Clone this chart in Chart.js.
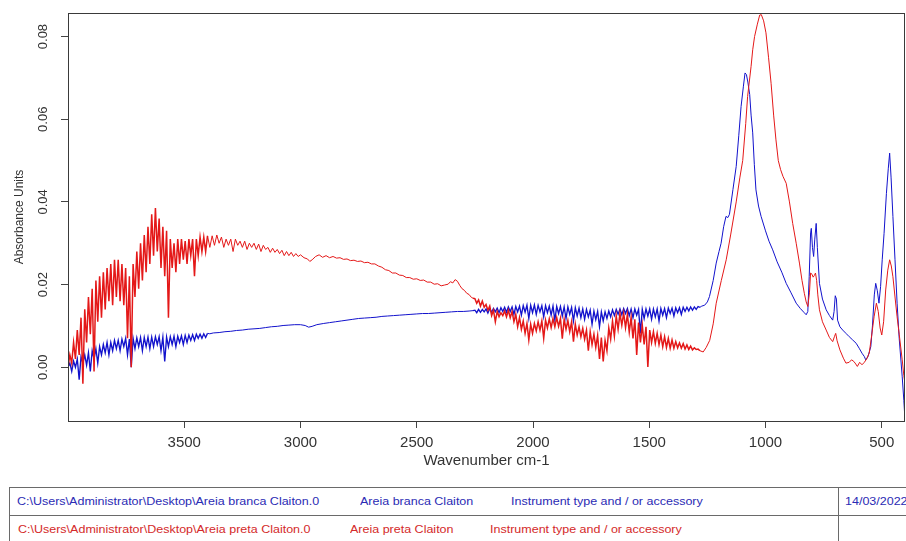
<!DOCTYPE html>
<html><head><meta charset="utf-8">
<script src="https://cdn.jsdelivr.net/npm/chart.js@4.4.1/dist/chart.umd.min.js"></script>
<style>
html,body{margin:0;padding:0;background:#fff;width:906px;height:541px;overflow:hidden;}
#wrap{position:absolute;left:0;top:0;width:906px;height:480px;}
.hl{position:absolute;left:9px;width:905px;height:0;border-top:1px solid #6a6a6a;}
.vl{position:absolute;top:487px;height:60px;width:0;border-left:1px solid #6a6a6a;}
.t{position:absolute;font-family:"Liberation Sans",Arial,sans-serif;font-size:10px;line-height:12px;white-space:nowrap;transform:scaleX(1.25);transform-origin:0 0;}
.b{color:#2b2bb4}.r{color:#d42a2a}
</style></head><body>
<div id="wrap"><canvas id="c" width="906" height="480"></canvas></div>
<div class="hl" style="top:487px"></div>
<div class="hl" style="top:515px"></div>
<div class="vl" style="left:9px"></div>
<div class="vl" style="left:838px"></div>
<div class="t b" style="left:17px;top:496px">C:\Users\Administrator\Desktop\Areia branca Claiton.0</div>
<div class="t b" style="left:360px;top:496px">Areia branca Claiton</div>
<div class="t b" style="left:511px;top:496px">Instrument type and / or accessory</div>
<div class="t b" style="left:845px;top:496px">14/03/2022</div>
<div class="t r" style="left:18px;top:524px">C:\Users\Administrator\Desktop\Areia preta Claiton.0</div>
<div class="t r" style="left:350px;top:524px">Areia preta Claiton</div>
<div class="t r" style="left:490px;top:524px">Instrument type and / or accessory</div>
<script>
// ---------- tick labels ----------
const xTickValues = [3500, 3000, 2500, 2000, 1500, 1000, 500];
const xTickLabels = ['3500', '3000', '2500', '2000', '1500', '1000', '500'];
const yTickValues = [0, 0.02, 0.04, 0.06, 0.08];
const yTickLabels = ['0.00', '0.02', '0.04', '0.06', '0.08'];

// ---------- Areia branca Claiton (blue) ----------
// noisy part, wavenumbers 4000 -> 3400 every 8 cm-1
const brancaNoisyAStart = 4000, brancaNoisyAStep = 8;
const brancaNoisyA = [0.000,0.001,-0.001,0.0015,0.000,0.002,-0.003,0.0025,0.001,0.003,
0.0005,0.0035,-0.001,0.004,0.002,0.0045,0.001,0.005,0.003,0.0055,
0.0035,0.006,0.003,0.006,0.004,0.0065,0.0045,0.0065,0.004,0.0068,
0.005,0.007,0.003,0.0068,0.000,0.007,0.0045,0.0071,0.005,0.0072,
0.004,0.0072,0.005,0.0073,0.0045,0.0073,0.005,0.0074,0.0055,0.0074,
0.004,0.0073,0.0014,0.0073,0.005,0.0074,0.0055,0.0075,0.005,0.0075,
0.006,0.0076,0.0055,0.0077,0.006,0.0078,0.0065,0.0079,0.0065,0.008,
0.007,0.008,0.007,0.0081,0.0072,0.0082];
const brancaMidWave = [3390,3375,3350,3325,3300,3275,3250,3225,3200,3175,3150,3125,3100,3075,3050,3025,3000,2980,2965,2950,2930,2900,2875,2850,2825,2800,2775,2750,2725,2700,2675,2650,2625,2600,2575,2550,2525,2500,2475,2450,2425,2400,2375,2350,2325,2300,2275,2258];
const brancaMidAbs = [0.0081,0.0083,0.0084,0.0086,0.0087,0.0089,0.009,0.0092,0.0093,0.0094,0.0096,0.0098,0.0099,0.0101,0.0102,0.0103,0.0103,0.0101,0.0097,0.0099,0.0103,0.0106,0.0108,0.011,0.0112,0.0114,0.0116,0.0118,0.0119,0.012,0.0121,0.0123,0.0124,0.0125,0.0126,0.0127,0.0128,0.0129,0.013,0.013,0.0131,0.0132,0.0133,0.0134,0.0135,0.0135,0.0136,0.0137];
// noisy part, wavenumbers 2250 -> 1282 every 8 cm-1
const brancaNoisyCStart = 2250, brancaNoisyCStep = 8;
const brancaNoisyC = [0.0138,0.0132,0.014,0.0133,0.014,0.0134,0.0141,0.0131,0.0142,0.0133,
0.0142,0.0134,0.0143,0.0132,0.0144,0.0135,0.0145,0.0133,0.0146,0.0135,
0.0146,0.0128,0.0147,0.0134,0.0148,0.0126,0.0149,0.0133,0.015,0.0118,
0.015,0.0132,0.0151,0.0128,0.015,0.0134,0.0149,0.0122,0.0149,0.0132,
0.0148,0.0126,0.0148,0.0114,0.0147,0.013,0.0147,0.0124,0.0146,0.0118,
0.0146,0.0128,0.0145,0.0112,0.0144,0.0124,0.0143,0.012,0.0141,0.0116,
0.014,0.0122,0.0138,0.0104,0.0136,0.0115,0.0135,0.0098,0.0134,0.0112,
0.0134,0.0118,0.0136,0.0122,0.0139,0.0125,0.014,0.0128,0.0141,0.0127,
0.0142,0.013,0.0142,0.0125,0.0141,0.012,0.0141,0.0126,0.014,0.0082,
0.014,0.0118,0.0141,0.0124,0.0141,0.0116,0.0141,0.0122,0.0141,0.0112,
0.0142,0.0126,0.0142,0.012,0.0143,0.013,0.0143,0.0124,0.0144,0.0132,
0.0144,0.0128,0.0145,0.0135,0.0145,0.0136,0.0146,0.0138,0.0146,0.014,
0.0147,0.0145];
const brancaBandWave = [1274,1262,1250,1241,1225,1212,1200,1191,1180,1170,1162,1155,1140,1126,1115,1105,1095,1088,1082,1076,1068,1062,1055,1048,1041,1030,1019,1000,985,969,950,930,911,890,868,850,835,825,818,812,806,803,798,793,788,782,777,768,755,739,725,711,705,700,695,690,680,668,654,640,625,610,597,585,575,569,560,552,547,540,532,526,519,512,505,498,490,480,472,466,460,452,443,434,425,412,405,400];
const brancaBandAbs = [0.0148,0.015,0.0158,0.0171,0.021,0.0252,0.028,0.030,0.034,0.0365,0.0362,0.037,0.043,0.0486,0.056,0.0631,0.068,0.0712,0.0708,0.069,0.066,0.061,0.0567,0.049,0.0429,0.039,0.0365,0.033,0.0305,0.0284,0.0255,0.023,0.0203,0.018,0.0155,0.0142,0.0133,0.0127,0.0135,0.022,0.0325,0.0336,0.029,0.0268,0.031,0.0348,0.029,0.0203,0.0165,0.0139,0.0125,0.0114,0.0135,0.0173,0.0165,0.0114,0.0098,0.009,0.0082,0.0074,0.0066,0.0058,0.0046,0.0034,0.0026,0.0018,0.0025,0.004,0.005,0.010,0.0175,0.0203,0.0185,0.0155,0.0195,0.026,0.0324,0.042,0.048,0.0518,0.046,0.0365,0.026,0.0155,0.007,-0.0023,-0.008,-0.0128];

// ---------- Areia preta Claiton (red) ----------
const pretaNoisyAStart = 4000, pretaNoisyAStep = 8;
const pretaNoisyA = [0.000,0.003,0.001,0.006,0.002,0.009,0.003,0.012,-0.004,0.014,
0.006,0.017,0.008,0.019,-0.001,0.021,0.011,0.022,0.012,0.023,
0.014,0.024,0.016,0.025,0.015,0.026,0.017,0.026,0.016,0.025,
0.015,0.024,0.007,0.022,0.000,0.025,0.017,0.028,0.019,0.030,
0.021,0.032,0.023,0.034,0.025,0.037,0.027,0.0385,0.028,0.036,
0.024,0.034,0.022,0.033,0.012,0.031,0.024,0.030,0.023,0.031,
0.025,0.031,0.026,0.0305,0.025,0.031,0.027,0.031,0.022,0.031,
0.027,0.0315,0.028,0.0315,0.028,0.0318];
const pretaNoisyBStart = 3390, pretaNoisyBStep = 10;
const pretaNoisyB = [0.029,0.0318,0.0295,0.032,0.030,0.0315,0.029,0.031,0.0295,0.031,
0.028,0.031,0.0295,0.0305,0.029,0.0305,0.0285,0.030,0.029,0.030,
0.0285,0.0298,0.028,0.0295,0.0285,0.029,0.0278,0.0288,0.0278,0.0285,
0.0275,0.0283,0.027,0.028,0.027,0.0278,0.0268,0.0275,0.0268,0.0272];
const pretaMidWave = [2985,2970,2960,2950,2935,2920,2905,2890,2875,2860,2845,2830,2815,2800,2785,2770,2755,2740,2725,2710,2695,2680,2665,2650,2635,2620,2605,2590,2575,2560,2545,2530,2515,2500,2485,2470,2455,2440,2425,2410,2395,2380,2365,2355,2345,2335,2325,2315,2305,2295,2285,2275,2265,2258];
const pretaMidAbs = [0.0265,0.0262,0.0256,0.026,0.0268,0.0272,0.0266,0.027,0.0265,0.0268,0.0264,0.0265,0.0261,0.0262,0.0258,0.0259,0.0256,0.0257,0.0253,0.0254,0.025,0.025,0.0245,0.0242,0.0236,0.0234,0.0228,0.0228,0.0223,0.0222,0.0217,0.0217,0.0213,0.0214,0.021,0.0211,0.0206,0.0206,0.0201,0.0202,0.0197,0.0199,0.0201,0.0207,0.0204,0.0212,0.0208,0.0198,0.019,0.0186,0.0179,0.0176,0.0169,0.0167];
const pretaNoisyCStart = 2250, pretaNoisyCStep = 8;
const pretaNoisyC = [0.0166,0.0155,0.0163,0.0148,0.016,0.0145,0.0152,0.0138,0.0148,0.0125,
0.0138,0.011,0.0135,0.0122,0.0132,0.0125,0.0136,0.0122,0.0138,0.012,
0.0135,0.011,0.0128,0.0098,0.012,0.0092,0.0112,0.0082,0.0106,0.0066,
0.0104,0.0082,0.0106,0.0088,0.011,0.009,0.0112,0.007,0.0114,0.0095,
0.0117,0.0096,0.0118,0.0098,0.012,0.0099,0.0118,0.0069,0.0116,0.0092,
0.0113,0.0086,0.011,0.0062,0.0104,0.0078,0.0098,0.0074,0.0094,0.0068,
0.009,0.004,0.0086,0.0055,0.008,0.0048,0.0077,0.002,0.0072,0.0014,
0.0065,0.004,0.0095,0.0068,0.0112,0.0075,0.0124,0.0092,0.013,0.0102,
0.0131,0.0096,0.0128,0.0085,0.0121,0.007,0.0116,0.003,0.0108,0.006,
0.0102,0.0055,0.0098,0.0001,0.009,0.006,0.0086,0.0058,0.0082,0.0055,
0.0078,0.005,0.0074,0.0048,0.007,0.0046,0.0066,0.0046,0.0062,0.0047,
0.0059,0.0046,0.0057,0.0044,0.0054,0.0043,0.0051,0.0042,0.0047,0.0043,
0.0044,0.004];
const pretaBandWave = [1268,1255,1240,1225,1212,1190,1169,1150,1126,1110,1098,1085,1077,1062,1055,1047,1035,1025,1018,1008,998,987,976,965,955,945,935,925,911,897,883,868,854,843,833,825,818,811,806,800,795,790,785,780,775,768,755,739,725,711,703,698,692,680,665,654,640,630,620,612,605,595,585,575,565,554,545,533,523,515,507,500,492,483,474,466,459,452,443,434,425,412,405,400];
const pretaBandAbs = [0.0037,0.0048,0.0065,0.0105,0.0155,0.021,0.026,0.032,0.040,0.046,0.050,0.059,0.0655,0.0728,0.0768,0.080,0.083,0.0852,0.0853,0.0838,0.0809,0.075,0.0687,0.061,0.055,0.050,0.0478,0.0462,0.0445,0.040,0.0348,0.030,0.0252,0.021,0.0179,0.0158,0.0147,0.018,0.0228,0.0225,0.0218,0.0222,0.0228,0.021,0.0175,0.0139,0.011,0.009,0.0072,0.0062,0.0075,0.0082,0.0064,0.0042,0.0022,0.001,0.0012,0.0018,0.0014,0.0008,0.0002,0.0012,0.0006,0.0012,0.002,0.0034,0.007,0.0122,0.0155,0.0135,0.0095,0.0078,0.011,0.0187,0.0235,0.026,0.0245,0.0219,0.017,0.0122,0.008,0.0018,-0.002,-0.004];

// ---------- assemble points ----------
function gridSeg(start, step, vals) { return vals.map((v, i) => ({ x: start - step * i, y: v })); }
function pairSeg(ws, vs) { return ws.map((w, i) => ({ x: w, y: vs[i] })); }
const brancaPts = [].concat(
  gridSeg(brancaNoisyAStart, brancaNoisyAStep, brancaNoisyA),
  pairSeg(brancaMidWave, brancaMidAbs),
  gridSeg(brancaNoisyCStart, brancaNoisyCStep, brancaNoisyC),
  pairSeg(brancaBandWave, brancaBandAbs));
const pretaPts = [].concat(
  gridSeg(pretaNoisyAStart, pretaNoisyAStep, pretaNoisyA),
  gridSeg(pretaNoisyBStart, pretaNoisyBStep, pretaNoisyB),
  pairSeg(pretaMidWave, pretaMidAbs),
  gridSeg(pretaNoisyCStart, pretaNoisyCStep, pretaNoisyC),
  pairSeg(pretaBandWave, pretaBandAbs));

// noisy (dense) stretches get a slightly heavier stroke
const brancaNoisyEndA = brancaNoisyAStart - brancaNoisyAStep * (brancaNoisyA.length - 1);
const brancaNoisyEndC = brancaNoisyCStart - brancaNoisyCStep * (brancaNoisyC.length - 1);
const pretaNoisyEndA = pretaNoisyAStart - pretaNoisyAStep * (pretaNoisyA.length - 1);
const pretaNoisyEndC = pretaNoisyCStart - pretaNoisyCStep * (pretaNoisyC.length - 1);
function brancaWidth(c) {
  const x = c.p1.parsed.x;
  return (x >= brancaNoisyEndA || (x <= brancaNoisyCStart && x >= brancaNoisyEndC)) ? 1.35 : 1;
}
function pretaWidth(c) {
  const x = c.p1.parsed.x;
  return (x >= pretaNoisyEndA || (x <= pretaNoisyCStart && x >= pretaNoisyEndC)) ? 1.5 : 1;
}

const framePlugin = {
  id: 'frame',
  afterDraw(chart) {
    const { ctx, chartArea: a } = chart;
    ctx.save();
    ctx.strokeStyle = '#3a3a3a';
    ctx.lineWidth = 1;
    ctx.strokeRect(Math.round(a.left) + 0.5, Math.round(a.top) + 0.5,
      Math.round(a.right - a.left) - 1, Math.round(a.bottom - a.top));
    ctx.restore();
  }
};

new Chart(document.getElementById('c'), {
  type: 'line',
  data: {
    datasets: [
      { label: 'Areia preta Claiton', data: pretaPts, borderColor: '#e41818', borderWidth: 1, pointRadius: 0, fill: false, tension: 0,
        segment: { borderWidth: pretaWidth } },
      { label: 'Areia branca Claiton', data: brancaPts, borderColor: '#1212cc', borderWidth: 1, pointRadius: 0, fill: false, tension: 0,
        segment: { borderWidth: brancaWidth } }
    ]
  },
  options: {
    responsive: false, animation: false, devicePixelRatio: 1,
    layout: { padding: { left: 0, top: 13, right: 1, bottom: 0 } },
    plugins: { legend: { display: false }, tooltip: { enabled: false } },
    scales: {
      x: {
        type: 'linear', reverse: true, min: 400, max: 4000,
        afterBuildTicks: s => { s.ticks = xTickValues.map(v => ({ value: v })); },
        afterFit: s => { s.height = 59; },
        ticks: { autoSkip: false, maxRotation: 0, padding: 6, color: '#333',
          font: { family: 'Liberation Sans', size: 15 },
          callback: (v, i) => xTickLabels[i] },
        grid: { drawOnChartArea: false, drawTicks: true, tickLength: 7, color: '#444' },
        border: { display: false },
        title: { display: true, text: 'Wavenumber cm-1', color: '#333',
          font: { family: 'Liberation Sans', size: 15 }, padding: { top: 0, bottom: 10 } }
      },
      y: {
        type: 'linear', min: -0.013, max: 0.0857,
        afterBuildTicks: s => { s.ticks = yTickValues.map(v => ({ value: v })); },
        afterFit: s => { s.width = 68; },
        ticks: { minRotation: 90, maxRotation: 90, crossAlign: 'center', padding: 5, color: '#333',
          font: { family: 'Liberation Sans', size: 13 },
          callback: (v, i) => yTickLabels[i] },
        grid: { drawOnChartArea: false, drawTicks: true, tickLength: 7, color: '#444' },
        border: { display: false },
        title: { display: true, text: 'Absorbance Units', color: '#333',
          font: { family: 'Liberation Sans', size: 12 }, padding: { top: 12, bottom: 0 } }
      }
    }
  },
  plugins: [framePlugin]
});
</script>
</body></html>
